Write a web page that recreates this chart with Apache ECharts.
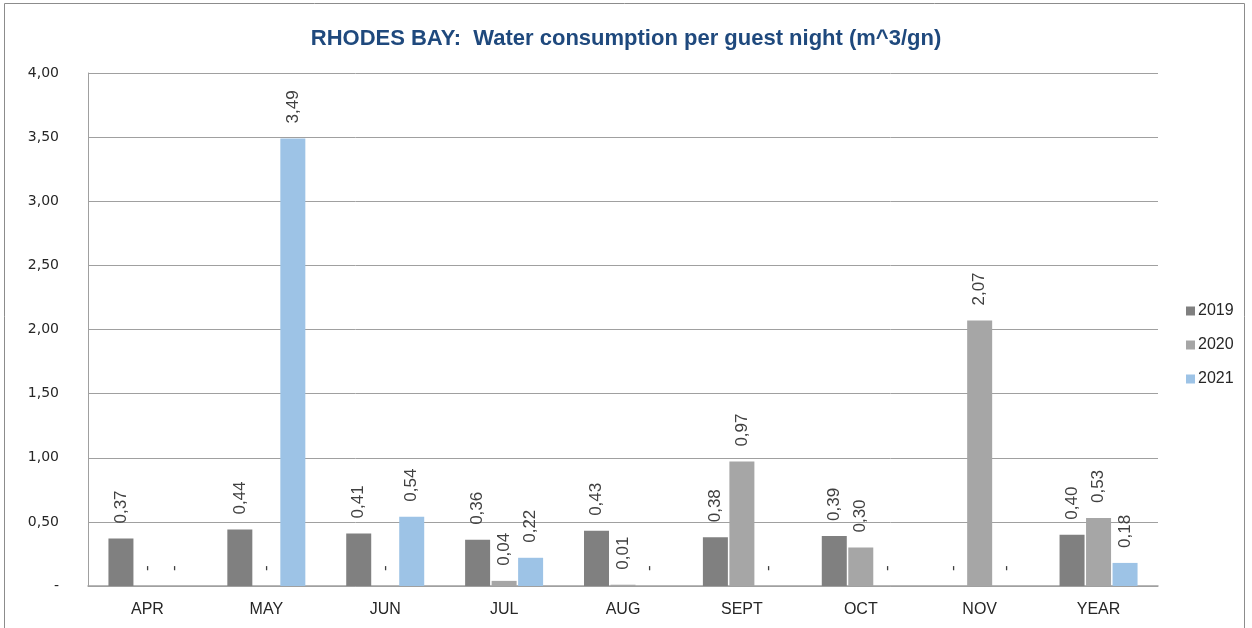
<!DOCTYPE html>
<html>
<head>
<meta charset="utf-8">
<script src="https://cdn.jsdelivr.net/npm/echarts@6/dist/echarts.min.js"></script>
<style>html,body{margin:0;padding:0;background:#fff;}#c{width:1252px;height:628px;}</style>
</head>
<body>
<div id="c"></div>
<script>
const categories = ['APR', 'MAY', 'JUN', 'JUL', 'AUG', 'SEPT', 'OCT', 'NOV', 'YEAR'];
const s2019 = [0.37, 0.44, 0.41, 0.36, 0.43, 0.38, 0.39, 0, 0.40];
const s2020 = [0, 0, 0, 0.04, 0.01, 0.97, 0.30, 2.07, 0.53];
const s2021 = [0, 3.49, 0.54, 0.22, 0, 0, 0, 0, 0.18];
const seriesNames = ['2019', '2020', '2021'];
const yTicks = { min: 0, max: 4, interval: 0.5 };

const fmt = v => v === 0 ? '-' : v.toFixed(2).replace('.', ',');
const colors = ['#808080', '#a6a6a6', '#9dc3e6'];
const chart = echarts.init(document.getElementById('c'));
const mk = (name, data, i) => ({
  name, type: 'bar', data, barWidth: 25, barGap: '6%',
  itemStyle: { color: colors[i] },
  label: {
    show: true, position: 'top', rotate: 90, align: 'left', verticalAlign: 'middle',
    distance: 15, formatter: p => fmt(p.value),
    fontFamily: 'Liberation Sans', fontSize: 17, color: '#404040'
  }
});
chart.setOption({
  animation: false,
  backgroundColor: '#ffffff',
  color: colors,
  title: {
    text: 'RHODES BAY:  Water consumption per guest night (m^3/gn)',
    left: 'center', top: 23,
    textStyle: { fontFamily: 'Liberation Sans', fontWeight: 'bold', fontSize: 22, color: '#1f497d' }
  },
  legend: {
    orient: 'vertical', left: 1181, top: 298, itemGap: 18,
    icon: 'rect', itemWidth: 9, itemHeight: 9,
    textStyle: { fontFamily: 'Liberation Sans', fontSize: 16, color: '#262626', padding: [0, 0, 0, -2] },
    data: seriesNames
  },
  grid: { left: 88, right: 94, top: 73, bottom: 42 },
  xAxis: {
    type: 'category', data: categories,
    axisLine: { lineStyle: { color: '#a0a0a0', width: 1.5 } },
    axisTick: { show: false },
    axisLabel: { fontFamily: 'Liberation Sans', fontSize: 16, color: '#262626', margin: 16 }
  },
  yAxis: {
    type: 'value', min: yTicks.min, max: yTicks.max, interval: yTicks.interval,
    axisLine: { show: true, lineStyle: { color: '#a0a0a0' } },
    axisTick: { show: false },
    splitLine: { lineStyle: { color: '#a0a0a0', width: 1 } },
    axisLabel: { fontFamily: 'DejaVu Sans', fontSize: 14, color: '#262626', margin: 29, formatter: v => v === 0 ? '-' : fmt(v) }
  },
  graphic: [{
    type: 'rect', shape: { x: 4.5, y: 3.5, width: 1240, height: 640 },
    style: { fill: 'none', stroke: '#8c8c8c', lineWidth: 1 }, silent: true
  }],
  series: [mk('2019', s2019, 0), mk('2020', s2020, 1), mk('2021', s2021, 2)]
});
</script>
</body>
</html>
